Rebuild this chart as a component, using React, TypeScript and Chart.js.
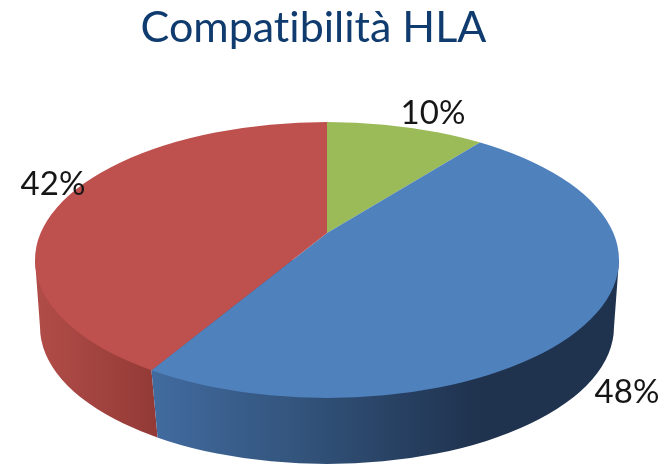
import React, { useEffect, useRef } from "react";
import { Chart, registerables } from "chart.js";

Chart.register(...registerables);

const titleText = "Compatibilità HLA";
const categories = ["Verde", "Blu", "Rosso"];
const seriesValues = [10, 48, 42];
const sliceColors = ["#9bbb59", "#4f81bd", "#be504d"];
const labelAnchors = [
  { x: 433, y: 113 },
  { x: 627, y: 392 },
  { x: 53, y: 184 },
];

const W = 671;
const H = 464;
const apex = { x: 327, y: 233 };
const topFace = { x: 327, y: 260, rx: 292, ry: 138 };
const baseFace = { x: 327, y: 327, rx: 287, ry: 137 };
const squash = 0.43;
const screenRadius = 410;

function sidePath(ctx: CanvasRenderingContext2D) {
  ctx.beginPath();
  ctx.moveTo(topFace.x - topFace.rx, topFace.y);
  ctx.lineTo(baseFace.x - baseFace.rx, baseFace.y);
  ctx.ellipse(baseFace.x, baseFace.y, baseFace.rx, baseFace.ry, 0, Math.PI, 0, true);
  ctx.lineTo(topFace.x + topFace.rx, topFace.y);
  ctx.closePath();
}

function rimPoint(angle: number) {
  const dx = Math.cos(angle);
  const dy = Math.sin(angle) * squash;
  const oy = apex.y - topFace.y;
  const a = (dx * dx) / (topFace.rx * topFace.rx) + (dy * dy) / (topFace.ry * topFace.ry);
  const b = (2 * oy * dy) / (topFace.ry * topFace.ry);
  const c = (oy * oy) / (topFace.ry * topFace.ry) - 1;
  const t = (-b + Math.sqrt(b * b - 4 * a * c)) / (2 * a);
  return { x: apex.x + dx * t, y: apex.y + dy * t };
}

const pie3d = {
  id: "pie3d",
  beforeDraw(chart: any) {
    // a non-zero spacing keeps Lato from forming the "ti" ligature
    chart.ctx.letterSpacing = "0.01px";
  },
  beforeDatasetsDraw(chart: any) {
    const { ctx } = chart;
    const meta = chart.getDatasetMeta(0);
    const first = meta.data[0];
    const rim = rimPoint(meta.data[1].endAngle);
    const baseX = rim.x + 6;
    const baseY = rim.y + 66;

    const red = ctx.createLinearGradient(baseFace.x - baseFace.rx, 0, baseX, 0);
    red.addColorStop(0, "#b04c48");
    red.addColorStop(1, "#933a36");
    const blue = ctx.createLinearGradient(baseX, 0, 480, 0);
    blue.addColorStop(0, "#416a9e");
    blue.addColorStop(0.4, "#34567f");
    blue.addColorStop(1, "#1f324e");

    ctx.save();
    ctx.beginPath();
    ctx.moveTo(rim.x, rim.y);
    ctx.lineTo(baseX, baseY);
    ctx.lineTo(baseX, H);
    ctx.lineTo(0, H);
    ctx.lineTo(0, 0);
    ctx.lineTo(rim.x, 0);
    ctx.closePath();
    ctx.clip();
    sidePath(ctx);
    ctx.fillStyle = red;
    ctx.fill();
    ctx.restore();

    ctx.save();
    ctx.beginPath();
    ctx.moveTo(rim.x, rim.y);
    ctx.lineTo(baseX, baseY);
    ctx.lineTo(baseX, H);
    ctx.lineTo(W, H);
    ctx.lineTo(W, 0);
    ctx.lineTo(rim.x, 0);
    ctx.closePath();
    ctx.clip();
    sidePath(ctx);
    ctx.fillStyle = blue;
    ctx.fill();
    ctx.restore();

    ctx.save();
    ctx.beginPath();
    ctx.ellipse(topFace.x, topFace.y, topFace.rx, topFace.ry, 0, 0, Math.PI * 2);
    ctx.clip();
    const k = screenRadius / first.outerRadius;
    ctx.translate(apex.x, apex.y);
    ctx.scale(k, k * squash);
    ctx.translate(-first.x, -first.y);
  },
  afterDatasetsDraw(chart: any) {
    const { ctx } = chart;
    ctx.restore();
    ctx.save();
    ctx.font = '33px Lato, "Open Sans", sans-serif';
    ctx.fillStyle = "#161616";
    ctx.textAlign = "center";
    ctx.textBaseline = "middle";
    seriesValues.forEach((v, i) => {
      ctx.fillText(`${v}%`, labelAnchors[i].x, labelAnchors[i].y);
    });
    ctx.restore();
  },
};

export default function App() {
  const ref = useRef<HTMLCanvasElement>(null);
  useEffect(() => {
    const chart = new Chart(ref.current!, {
      type: "pie",
      data: {
        labels: categories,
        datasets: [
          {
            data: seriesValues,
            backgroundColor: sliceColors,
            borderWidth: 0,
            clip: false,
          } as any,
        ],
      },
      options: {
        responsive: false,
        animation: false,
        layout: { padding: { right: 44 } },
        plugins: {
          legend: { display: false },
          tooltip: { enabled: false },
          title: {
            display: true,
            text: titleText,
            color: "#0f3b6f",
            font: { family: 'Lato, "Open Sans", sans-serif', size: 43, weight: "normal" },
            padding: { top: 2, bottom: 10 },
          },
        },
      },
      plugins: [pie3d],
    });
    return () => chart.destroy();
  }, []);
  return (
    <div style={{ position: "fixed", left: 0, top: 0, width: W, height: H, background: "#fff" }}>
      <canvas ref={ref} width={W} height={H} style={{ display: "block" }} />
    </div>
  );
}
